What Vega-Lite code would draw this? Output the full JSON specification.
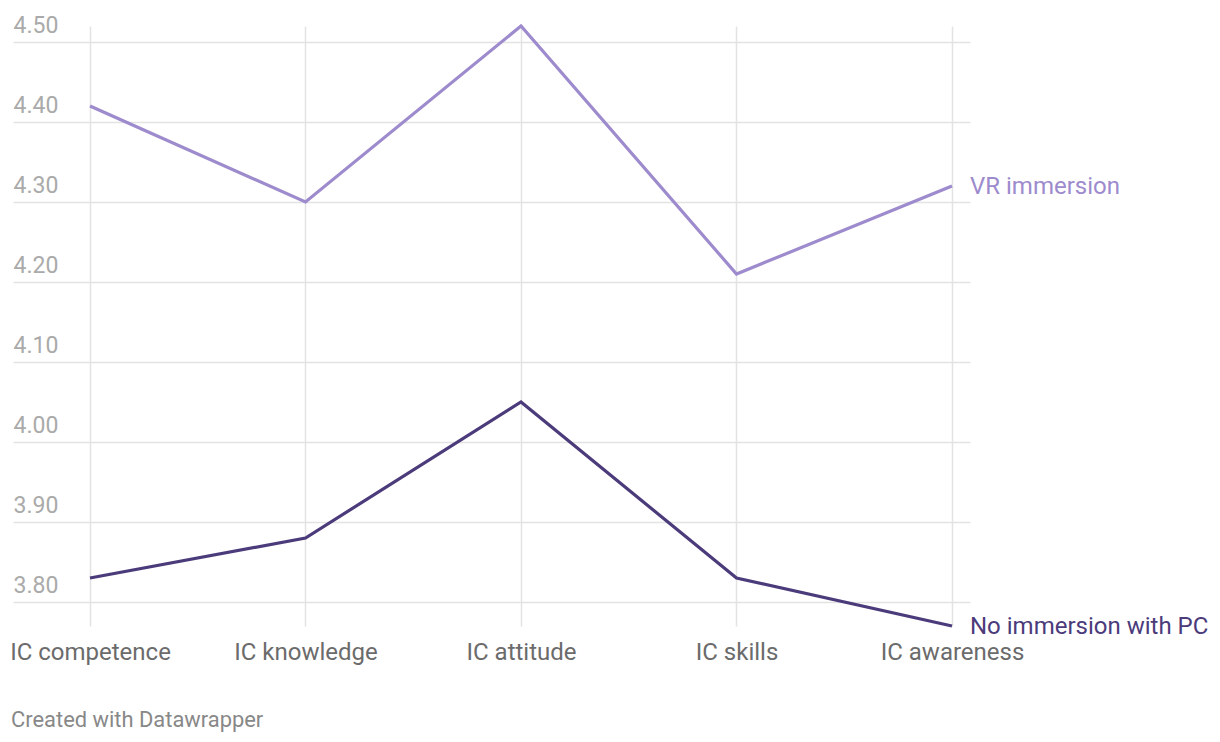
{
  "$schema": "https://vega.github.io/schema/vega-lite/v6.json",
  "width": 957,
  "height": 600,
  "autosize": {"type": "none"},
  "padding": {"left": 13, "top": 26, "right": 250, "bottom": 116},
  "background": "#ffffff",
  "config": {
    "view": {"stroke": null},
    "font": "Roboto"
  },
  "title": {
    "text": "Created with Datawrapper",
    "orient": "bottom",
    "anchor": "start",
    "frame": "group",
    "offset": 46,
    "dx": -2,
    "fontSize": 21.9,
    "fontWeight": "normal",
    "color": "#888888",
    "font": "Roboto"
  },
  "data": {
    "values": [
      {"dimension": "IC competence", "group": "VR immersion", "score": 4.42},
      {"dimension": "IC knowledge", "group": "VR immersion", "score": 4.30},
      {"dimension": "IC attitude", "group": "VR immersion", "score": 4.52},
      {"dimension": "IC skills", "group": "VR immersion", "score": 4.21},
      {"dimension": "IC awareness", "group": "VR immersion", "score": 4.32},
      {"dimension": "IC competence", "group": "No immersion with PC", "score": 3.83},
      {"dimension": "IC knowledge", "group": "No immersion with PC", "score": 3.88},
      {"dimension": "IC attitude", "group": "No immersion with PC", "score": 4.05},
      {"dimension": "IC skills", "group": "No immersion with PC", "score": 3.83},
      {"dimension": "IC awareness", "group": "No immersion with PC", "score": 3.77}
    ]
  },
  "encoding": {
    "x": {
      "field": "dimension",
      "type": "ordinal",
      "sort": ["IC competence", "IC knowledge", "IC attitude", "IC skills", "IC awareness"],
      "scale": {"type": "point", "padding": 0.2204, "align": 0.8105},
      "axis": {
        "title": null,
        "domain": false,
        "ticks": false,
        "labelPadding": 14,
        "labelAngle": 0,
        "labelFontSize": 24,
        "labelColor": "#6b6b6b",
        "labelFont": "Roboto",
        "grid": true,
        "gridColor": "#e3e3e3",
        "gridWidth": 1.5
      }
    },
    "y": {
      "field": "score",
      "type": "quantitative",
      "scale": {"domain": [3.77, 4.52], "nice": false, "zero": false},
      "axis": {
        "title": null,
        "domain": false,
        "ticks": false,
        "tickSize": 0,
        "values": [3.8, 3.9, 4.0, 4.1, 4.2, 4.3, 4.4, 4.5],
        "format": ".2f",
        "labelAlign": "left",
        "labelBaseline": "alphabetic",
        "labelPadding": 0,
        "labelOffset": -10,
        "labelOverlap": false,
        "labelFontSize": 23,
        "labelColor": "#aaaaaa",
        "labelFont": "Roboto",
        "grid": true,
        "gridColor": "#e3e3e3",
        "gridWidth": 1.5
      }
    },
    "color": {
      "field": "group",
      "type": "nominal",
      "scale": {"domain": ["VR immersion", "No immersion with PC"], "range": ["#9d8bcd", "#4b3b7b"]},
      "legend": null
    }
  },
  "layer": [
    {
      "mark": {"type": "line", "strokeWidth": 3.2, "strokeJoin": "miter"},
      "encoding": {"detail": {"field": "group"}}
    },
    {
      "transform": [{"filter": "datum.dimension === 'IC awareness'"}],
      "mark": {"type": "text", "align": "left", "baseline": "middle", "dx": 18, "dy": 1, "fontSize": 24, "font": "Roboto"},
      "encoding": {
        "text": {"field": "group"},
        "color": {
          "field": "group",
          "type": "nominal",
          "scale": {"domain": ["VR immersion", "No immersion with PC"], "range": ["#8672b8", "#4b3b7b"]},
          "legend": null
        }
      }
    }
  ]
}
